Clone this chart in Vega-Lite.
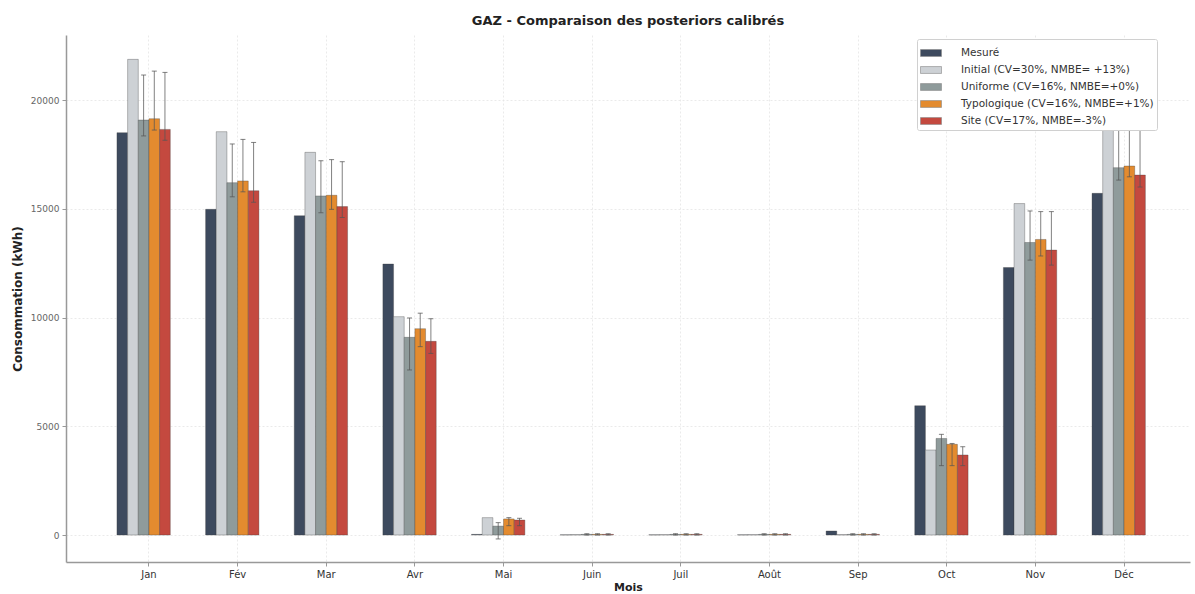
{
  "$schema": "https://vega.github.io/schema/vega-lite/v6.json",
  "width": 1124,
  "height": 527,
  "autosize": {"type": "none"},
  "padding": {"left": 66, "top": 35, "right": 5, "bottom": 32},
  "background": "white",
  "title": {
    "text": "GAZ - Comparaison des posteriors calibrés",
    "font": "DejaVu Sans",
    "fontSize": 13,
    "fontWeight": "bold",
    "color": "#222222",
    "anchor": "middle",
    "offset": 7
  },
  "config": {
    "view": {"stroke": null},
    "font": "DejaVu Sans"
  },
  "data": {
    "values": [
      {"mois": "Jan", "serie": "Mesuré", "valeur": 18500},
      {"mois": "Jan", "serie": "Initial (CV=30%, NMBE= +13%)", "valeur": 21870},
      {"mois": "Jan", "serie": "Uniforme (CV=16%, NMBE=+0%)", "valeur": 19080, "bas": 18350, "haut": 21150},
      {"mois": "Jan", "serie": "Typologique (CV=16%, NMBE=+1%)", "valeur": 19140, "bas": 18620, "haut": 21330},
      {"mois": "Jan", "serie": "Site (CV=17%, NMBE=-3%)", "valeur": 18650, "bas": 18150, "haut": 21270},

      {"mois": "Fév", "serie": "Mesuré", "valeur": 14975},
      {"mois": "Fév", "serie": "Initial (CV=30%, NMBE= +13%)", "valeur": 18545},
      {"mois": "Fév", "serie": "Uniforme (CV=16%, NMBE=+0%)", "valeur": 16200, "bas": 15550, "haut": 17980},
      {"mois": "Fév", "serie": "Typologique (CV=16%, NMBE=+1%)", "valeur": 16280, "bas": 15780, "haut": 18190},
      {"mois": "Fév", "serie": "Site (CV=17%, NMBE=-3%)", "valeur": 15830, "bas": 15300, "haut": 18050},

      {"mois": "Mar", "serie": "Mesuré", "valeur": 14680},
      {"mois": "Mar", "serie": "Initial (CV=30%, NMBE= +13%)", "valeur": 17595},
      {"mois": "Mar", "serie": "Uniforme (CV=16%, NMBE=+0%)", "valeur": 15590, "bas": 14820, "haut": 17210},
      {"mois": "Mar", "serie": "Typologique (CV=16%, NMBE=+1%)", "valeur": 15620, "bas": 14975, "haut": 17260},
      {"mois": "Mar", "serie": "Site (CV=17%, NMBE=-3%)", "valeur": 15100, "bas": 14600, "haut": 17165},

      {"mois": "Avr", "serie": "Mesuré", "valeur": 12460},
      {"mois": "Avr", "serie": "Initial (CV=30%, NMBE= +13%)", "valeur": 10040},
      {"mois": "Avr", "serie": "Uniforme (CV=16%, NMBE=+0%)", "valeur": 9090, "bas": 7590, "haut": 9980},
      {"mois": "Avr", "serie": "Typologique (CV=16%, NMBE=+1%)", "valeur": 9485, "bas": 8660, "haut": 10200},
      {"mois": "Avr", "serie": "Site (CV=17%, NMBE=-3%)", "valeur": 8905, "bas": 8350, "haut": 9945},

      {"mois": "Mai", "serie": "Mesuré", "valeur": 30},
      {"mois": "Mai", "serie": "Initial (CV=30%, NMBE= +13%)", "valeur": 800},
      {"mois": "Mai", "serie": "Uniforme (CV=16%, NMBE=+0%)", "valeur": 410, "bas": -180, "haut": 570},
      {"mois": "Mai", "serie": "Typologique (CV=16%, NMBE=+1%)", "valeur": 740, "bas": 430, "haut": 800},
      {"mois": "Mai", "serie": "Site (CV=17%, NMBE=-3%)", "valeur": 690, "bas": 430, "haut": 770},

      {"mois": "Juin", "serie": "Mesuré", "valeur": 10},
      {"mois": "Juin", "serie": "Initial (CV=30%, NMBE= +13%)", "valeur": 20},
      {"mois": "Juin", "serie": "Uniforme (CV=16%, NMBE=+0%)", "valeur": 30, "bas": 0, "haut": 60},
      {"mois": "Juin", "serie": "Typologique (CV=16%, NMBE=+1%)", "valeur": 30, "bas": 0, "haut": 60},
      {"mois": "Juin", "serie": "Site (CV=17%, NMBE=-3%)", "valeur": 30, "bas": 0, "haut": 60},

      {"mois": "Juil", "serie": "Mesuré", "valeur": 10},
      {"mois": "Juil", "serie": "Initial (CV=30%, NMBE= +13%)", "valeur": 20},
      {"mois": "Juil", "serie": "Uniforme (CV=16%, NMBE=+0%)", "valeur": 30, "bas": 0, "haut": 60},
      {"mois": "Juil", "serie": "Typologique (CV=16%, NMBE=+1%)", "valeur": 30, "bas": 0, "haut": 60},
      {"mois": "Juil", "serie": "Site (CV=17%, NMBE=-3%)", "valeur": 30, "bas": 0, "haut": 60},

      {"mois": "Août", "serie": "Mesuré", "valeur": 10},
      {"mois": "Août", "serie": "Initial (CV=30%, NMBE= +13%)", "valeur": 20},
      {"mois": "Août", "serie": "Uniforme (CV=16%, NMBE=+0%)", "valeur": 30, "bas": 0, "haut": 60},
      {"mois": "Août", "serie": "Typologique (CV=16%, NMBE=+1%)", "valeur": 30, "bas": 0, "haut": 60},
      {"mois": "Août", "serie": "Site (CV=17%, NMBE=-3%)", "valeur": 30, "bas": 0, "haut": 60},

      {"mois": "Sep", "serie": "Mesuré", "valeur": 185},
      {"mois": "Sep", "serie": "Initial (CV=30%, NMBE= +13%)", "valeur": 20},
      {"mois": "Sep", "serie": "Uniforme (CV=16%, NMBE=+0%)", "valeur": 30, "bas": 0, "haut": 60},
      {"mois": "Sep", "serie": "Typologique (CV=16%, NMBE=+1%)", "valeur": 30, "bas": 0, "haut": 60},
      {"mois": "Sep", "serie": "Site (CV=17%, NMBE=-3%)", "valeur": 30, "bas": 0, "haut": 60},

      {"mois": "Oct", "serie": "Mesuré", "valeur": 5945},
      {"mois": "Oct", "serie": "Initial (CV=30%, NMBE= +13%)", "valeur": 3910},
      {"mois": "Oct", "serie": "Uniforme (CV=16%, NMBE=+0%)", "valeur": 4440, "bas": 3190, "haut": 4630},
      {"mois": "Oct", "serie": "Typologique (CV=16%, NMBE=+1%)", "valeur": 4170, "bas": 3190, "haut": 4210},
      {"mois": "Oct", "serie": "Site (CV=17%, NMBE=-3%)", "valeur": 3680, "bas": 3190, "haut": 4060},

      {"mois": "Nov", "serie": "Mesuré", "valeur": 12300},
      {"mois": "Nov", "serie": "Initial (CV=30%, NMBE= +13%)", "valeur": 15240},
      {"mois": "Nov", "serie": "Uniforme (CV=16%, NMBE=+0%)", "valeur": 13450, "bas": 12640, "haut": 14900},
      {"mois": "Nov", "serie": "Typologique (CV=16%, NMBE=+1%)", "valeur": 13590, "bas": 12830, "haut": 14870},
      {"mois": "Nov", "serie": "Site (CV=17%, NMBE=-3%)", "valeur": 13100, "bas": 12410, "haut": 14870},

      {"mois": "Déc", "serie": "Mesuré", "valeur": 15710},
      {"mois": "Déc", "serie": "Initial (CV=30%, NMBE= +13%)", "valeur": 19500},
      {"mois": "Déc", "serie": "Uniforme (CV=16%, NMBE=+0%)", "valeur": 16890, "bas": 16320, "haut": 18620},
      {"mois": "Déc", "serie": "Typologique (CV=16%, NMBE=+1%)", "valeur": 16965, "bas": 16470, "haut": 18850},
      {"mois": "Déc", "serie": "Site (CV=17%, NMBE=-3%)", "valeur": 16550, "bas": 16000, "haut": 18930}
    ]
  },
  "encoding": {
    "x": {
      "field": "mois",
      "type": "nominal",
      "sort": ["Jan", "Fév", "Mar", "Avr", "Mai", "Juin", "Juil", "Août", "Sep", "Oct", "Nov", "Déc"],
      "scale": {"paddingInner": 0.278, "paddingOuter": 0.479, "align": 0.6},
      "axis": {
        "title": "Mois",
        "titleFont": "DejaVu Sans",
        "titleFontSize": 11,
        "titleFontWeight": "bold",
        "titleColor": "#222222",
        "titlePadding": 2,
        "labelAngle": 0,
        "labelFontSize": 10,
        "labelColor": "#333333",
        "labelPadding": 3,
        "tickSize": 4,
        "tickColor": "#999999",
        "domainColor": "#999999",
        "domainWidth": 1.5,
        "bandPosition": 0.5,
        "grid": true,
        "gridColor": "#e4e4e4",
        "gridDash": [2, 2],
        "gridWidth": 0.8
      }
    },
    "xOffset": {
      "field": "serie",
      "type": "nominal",
      "scale": {
        "domain": [
          "Mesuré",
          "Initial (CV=30%, NMBE= +13%)",
          "Uniforme (CV=16%, NMBE=+0%)",
          "Typologique (CV=16%, NMBE=+1%)",
          "Site (CV=17%, NMBE=-3%)",
          " "
        ],
        "paddingInner": 0,
        "paddingOuter": 0
      }
    }
  },
  "layer": [
    {
      "mark": {"type": "bar", "stroke": "#3a3a3a", "strokeWidth": 0.6, "strokeOpacity": 0.55},
      "encoding": {
        "y": {
          "field": "valeur",
          "type": "quantitative",
          "title": "Consommation (kWh)",
          "scale": {"domain": [-1240, 22990], "nice": false, "zero": false},
          "axis": {
            "titleFont": "DejaVu Sans",
            "titleFontSize": 12,
            "titleFontWeight": "bold",
            "titleColor": "#222222",
            "titlePadding": 6,
            "values": [0, 5000, 10000, 15000, 20000],
            "format": "d",
            "labelFontSize": 9,
            "labelColor": "#666666",
            "labelPadding": 3,
            "tickSize": 4,
            "tickColor": "#999999",
            "domainColor": "#999999",
            "domainWidth": 1.5,
            "grid": true,
            "gridColor": "#e4e4e4",
            "gridDash": [2, 2],
            "gridWidth": 0.8
          }
        },
        "color": {
          "field": "serie",
          "type": "nominal",
          "scale": {
            "domain": [
              "Mesuré",
              "Initial (CV=30%, NMBE= +13%)",
              "Uniforme (CV=16%, NMBE=+0%)",
              "Typologique (CV=16%, NMBE=+1%)",
              "Site (CV=17%, NMBE=-3%)"
            ],
            "range": ["#3d4a5e", "#cdd1d5", "#8f9b9b", "#e38b2f", "#c4493f"]
          },
          "legend": {
            "orient": "none",
            "legendX": 851,
            "legendY": 4,
            "title": null,
            "fillColor": "white",
            "strokeColor": "#d0d0d0",
            "padding": 3,
            "cornerRadius": 2,
            "labelFont": "DejaVu Sans",
            "labelFontSize": 10.5,
            "labelColor": "#333333",
            "labelOffset": 19,
            "labelLimit": 400,
            "symbolType": "M-1,-0.33H1V0.33H-1Z",
            "symbolSize": 441,
            "symbolStrokeWidth": 0.6,
            "symbolStrokeColor": "#888888",
            "rowPadding": 0
          }
        }
      }
    },
    {
      "transform": [{"filter": "isValid(datum.bas)"}],
      "mark": {"type": "rule", "color": "#555555", "strokeWidth": 1, "opacity": 0.75},
      "encoding": {
        "y": {"field": "bas", "type": "quantitative", "title": "Consommation (kWh)"},
        "y2": {"field": "haut"}
      }
    },
    {
      "transform": [{"filter": "isValid(datum.bas)"}],
      "mark": {"type": "tick", "color": "#555555", "size": 5, "thickness": 1, "opacity": 0.75},
      "encoding": {"y": {"field": "bas", "type": "quantitative", "title": "Consommation (kWh)"}}
    },
    {
      "transform": [{"filter": "isValid(datum.haut)"}],
      "mark": {"type": "tick", "color": "#555555", "size": 5, "thickness": 1, "opacity": 0.75},
      "encoding": {"y": {"field": "haut", "type": "quantitative", "title": "Consommation (kWh)"}}
    }
  ]
}
